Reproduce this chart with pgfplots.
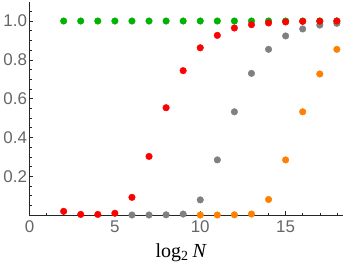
\documentclass[border=0pt]{standalone}
\usepackage{fontspec}
\setmainfont{Liberation Sans}
\newfontfamily\serifft{Liberation Serif}
\usepackage{pgfplots}
\pgfplotsset{compat=1.18}
\definecolor{mgreen}{rgb}{0,0.7,0}
\definecolor{mred}{rgb}{1,0,0}
\definecolor{mgray}{rgb}{0.5,0.5,0.5}
\definecolor{morange}{rgb}{1,0.5,0}
\definecolor{tickgray}{rgb}{0.4,0.4,0.4}
\begin{document}
\begin{tikzpicture}
\begin{axis}[
  name=ax,
  scale only axis,
  width=313.5bp, height=213bp,
  xmin=0, xmax=18.36, ymin=0, ymax=1.098,
  axis lines=left,
  axis line style={-, black!85, line width=0.7pt},
  clip=false,
  tick align=inside,
  major tick length=4bp, minor tick length=2.2bp,
  tick style={black!85, line width=0.5pt},
  xtick={0,5,10,15}, minor xtick={1,...,18},
  ytick={0.2,0.4,0.6,0.8,1.0},
  minor ytick={0.05,0.1,0.15,0.25,0.3,0.35,0.45,0.5,0.55,0.65,0.7,0.75,0.85,0.9,0.95,1.05},
  yticklabel style={/pgf/number format/fixed, /pgf/number format/fixed zerofill, /pgf/number format/precision=1},
  /pgf/number format/assume math mode=true,
  tick label style={font=\fontsize{17}{17}\selectfont, text=tickgray},
  xticklabel style={yshift=-2bp},
  yticklabel style={xshift=1bp},
  xlabel={{\serifft log\textsubscript{2}\hspace{4bp}\textit{N}}},
  xlabel style={font=\fontsize{20}{20}\selectfont, at={(axis description cs:0.5,0)}, anchor=base, yshift=-42bp, xshift=-5bp},
  every axis plot/.append style={only marks, mark=*, mark size=3.3bp},
]
\addplot[mgreen, mark options={draw=none, fill=mgreen}] coordinates {
(2,1)(3,1)(4,1)(5,1)(6,1)(7,1)(8,1)(9,1)(10,1)(11,1)(12,1)(13,1)(14,1)(15,1)(16,1)(17,1)(18,1)};
\addplot[morange, mark options={draw=none, fill=morange}] coordinates {
(10,0)(11,0)(12,0.001)(13,0.005)(14,0.08)(15,0.284)(16,0.532)(17,0.727)(18,0.854)};
\addplot[mgray, mark options={draw=none, fill=mgray}] coordinates {
(6,0)(7,0)(8,0.001)(9,0.005)(10,0.078)(11,0.284)(12,0.532)(13,0.73)(14,0.854)(15,0.923)(16,0.959)(17,0.979)(18,0.988)};
\addplot[mred, mark options={draw=none, fill=mred}] coordinates {
(2,0.019)(3,0.003)(4,0.003)(5,0.009)(6,0.091)(7,0.302)(8,0.553)(9,0.744)(10,0.862)(11,0.926)(12,0.964)(13,0.981)(14,0.99)(15,0.995)(16,0.998)(17,0.999)(18,1.0)};
\end{axis}
\pgfresetboundingbox
\path ([xshift=-29.5bp,yshift=-52bp]ax.south west) rectangle ([xshift=1bp,yshift=2bp]ax.north east);
\end{tikzpicture}
\end{document}
